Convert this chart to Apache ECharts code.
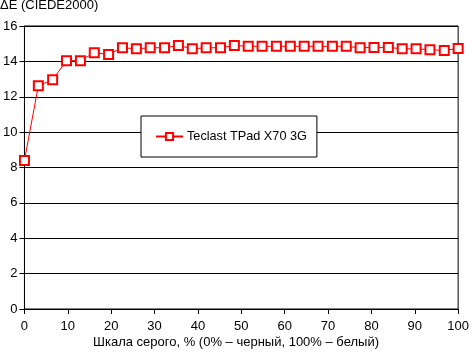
<!DOCTYPE html>
<html>
<head>
<meta charset="utf-8">
<script src="https://cdn.jsdelivr.net/npm/echarts@6/dist/echarts.min.js"></script>
<style>
  html, body { margin: 0; padding: 0; background: #fff; }
  #chart { width: 472px; height: 352px; }
</style>
</head>
<body>
<div id="chart"></div>
<script>
// уровни серого, % (32 точки)
const greyLevels = [0, 3.2, 6.5, 9.7, 12.9, 16.1, 19.4, 22.6, 25.8, 29.0, 32.3, 35.5, 38.7, 41.9, 45.2, 48.4,
  51.6, 54.8, 58.1, 61.3, 64.5, 67.7, 71.0, 74.2, 77.4, 80.6, 83.9, 87.1, 90.3, 93.5, 96.8, 100]
// ΔE для Teclast TPad X70 3G
const deltaE = [8.4, 12.62, 12.96, 14.04, 14.04, 14.49, 14.39, 14.77, 14.71, 14.77, 14.77, 14.9, 14.71, 14.77, 14.77, 14.9,
  14.85, 14.85, 14.85, 14.85, 14.85, 14.85, 14.85, 14.85, 14.77, 14.79, 14.79, 14.71, 14.71, 14.66, 14.62, 14.73]
const seriesName = 'Teclast TPad X70 3G'

const font = 'Arial, "Liberation Sans", sans-serif'
const chart = echarts.init(document.getElementById('chart'))
chart.setOption({
  animation: false,
  backgroundColor: '#fff',
  textStyle: { fontFamily: font, color: '#000' },
  graphic: [
    { type: 'text', left: 0, top: -1, style: { text: 'ΔE (CIEDE2000)', font: '13px ' + font, fill: '#000' } },
    { type: 'text', left: 'center', top: 336, style: { text: 'Шкала серого, % (0% – черный, 100% – белый)', font: '13px ' + font, fill: '#000' } }
  ],
  grid: {
    left: 23, right: 10, top: 26, bottom: 43,
    show: true, borderColor: '#000', borderWidth: 1
  },
  legend: {
    left: 141, top: 116,
    padding: [14, 10, 14, 14],
    backgroundColor: '#fff',
    borderColor: '#000',
    borderWidth: 1,
    itemWidth: 27, itemHeight: 9,
    textStyle: { fontFamily: font, fontSize: 12.7, color: '#000', padding: [0, 0, 0, -1] },
    data: [seriesName]
  },
  xAxis: {
    type: 'value', min: 0, max: 100, interval: 10,
    axisLine: { lineStyle: { color: '#000' } },
    axisTick: { show: true, length: 5, lineStyle: { color: '#000' } },
    axisLabel: { color: '#000', fontSize: 13, fontFamily: font, margin: 11 },
    splitLine: { show: false }
  },
  yAxis: {
    type: 'value', min: 0, max: 16, interval: 2,
    axisLine: { show: true, lineStyle: { color: '#000' } },
    axisTick: { show: true, length: 5, lineStyle: { color: '#000' } },
    axisLabel: { color: '#000', fontSize: 13, fontFamily: font, margin: 7 },
    splitLine: { show: true, lineStyle: { color: '#000', width: 1 } }
  },
  series: [{
    name: seriesName,
    type: 'line',
    data: greyLevels.map((x, i) => [x, deltaE[i]]),
    symbol: 'emptyRect',
    symbolSize: 9,
    color: '#ff0000',
    lineStyle: { color: '#ff0000', width: 1 },
    itemStyle: { color: '#ff0000', borderColor: '#ff0000', borderWidth: 1 },
    z: 5
  }]
})
</script>
</body>
</html>
